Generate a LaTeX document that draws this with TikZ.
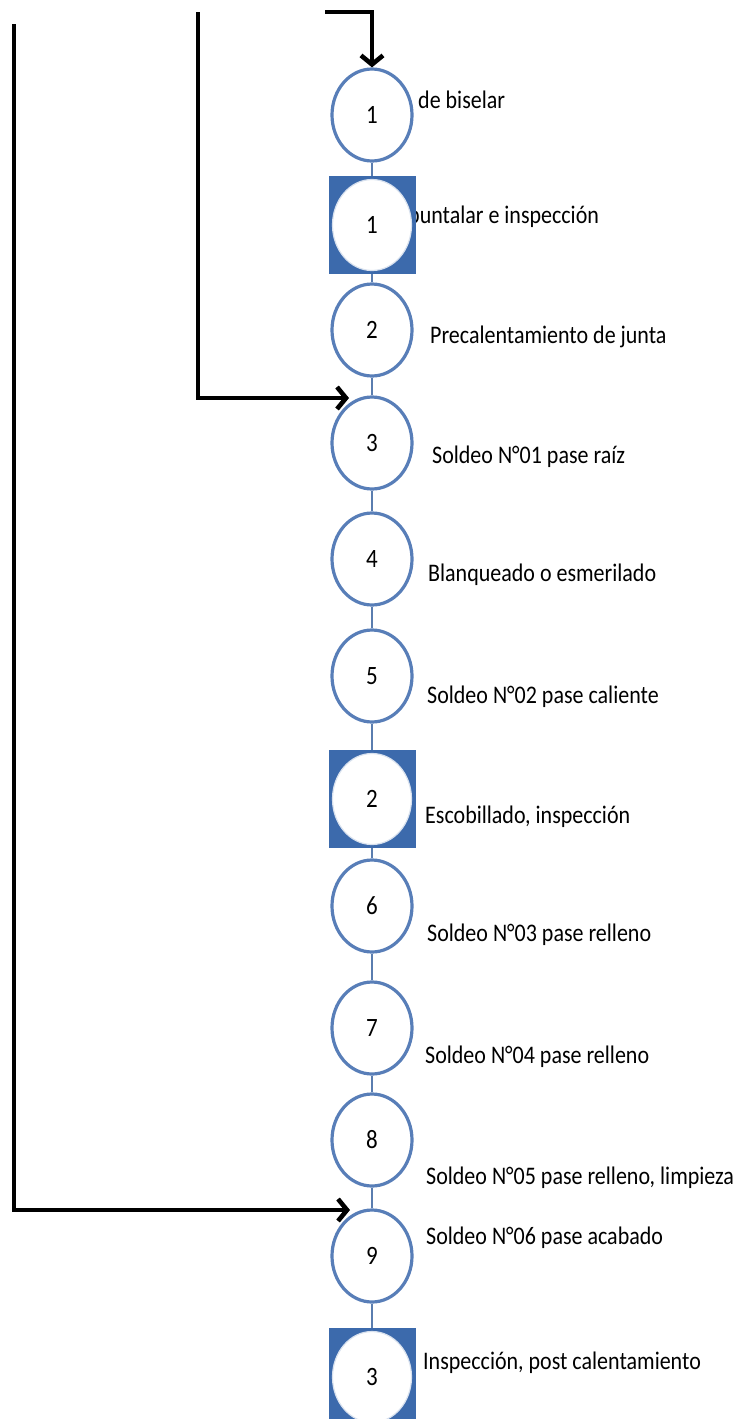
\documentclass[tikz,border=0pt]{standalone}
\usepackage{fontspec}
\setmainfont{Carlito}
\usetikzlibrary{shapes.geometric,arrows.meta}
\definecolor{ringblue}{RGB}{88,126,184}
\definecolor{boxblue}{RGB}{60,106,172}
\definecolor{linkblue}{RGB}{90,125,175}
\newcommand{\lbl}[1]{\scalebox{1}[1.15]{#1}}
\begin{document}
\begin{tikzpicture}[x=1pt,y=-1pt,
  opcircle/.style={ellipse,draw=ringblue,line width=3.2pt,fill=white,minimum width=80pt,minimum height=92pt,inner sep=0pt,font=\fontsize{23}{27}\selectfont},
  inspbox/.style={rectangle,fill=boxblue,draw=boxblue,line width=0.8pt,minimum width=86pt,minimum height=97pt,inner sep=0pt},
  inspcircle/.style={ellipse,fill=white,draw=white!80!boxblue,line width=1.2pt,minimum width=79pt,minimum height=91pt,inner sep=0pt,font=\fontsize{23}{27}\selectfont},
  steptext/.style={anchor=west,inner sep=0pt,font=\fontsize{22}{26}\selectfont},
  link/.style={draw=linkblue,line width=1.6pt},
  arr/.style={draw=black,line width=4.6pt,-{Straight Barb[length=9pt,width=22pt]}}]
\useasboundingbox (0,0) rectangle (743,1419);
% labels partly hidden behind shapes
\node[steptext] (t1) at (418,100) {\lbl{de biselar}};
\node[steptext] (t2) at (408,217) {\lbl{puntalar e inspección}};
% shapes
\node[opcircle] (c1) at (372,115) {\lbl{1}};
\node[inspbox] (s1) at (372,225) {};
\node[inspcircle] (s1c) at (372,225) {\lbl{1}};
\node[opcircle] (c2) at (372,330) {\lbl{2}};
\node[opcircle] (c3) at (372,443) {\lbl{3}};
\node[opcircle] (c4) at (372,559) {\lbl{4}};
\node[opcircle] (c5) at (372,676) {\lbl{5}};
\node[inspbox] (s2) at (372,799) {};
\node[inspcircle] (s2c) at (372,799) {\lbl{2}};
\node[opcircle] (c6) at (372,906) {\lbl{6}};
\node[opcircle] (c7) at (372,1028) {\lbl{7}};
\node[opcircle] (c8) at (372,1140) {\lbl{8}};
\node[opcircle] (c9) at (372,1256) {\lbl{9}};
\node[inspbox] (s3) at (372,1377) {};
\node[inspcircle] (s3c) at (372,1377) {\lbl{3}};
% chain links
\draw[link] (c1) -- (s1);
\draw[link] (s1) -- (c2);
\draw[link] (c2) -- (c3);
\draw[link] (c3) -- (c4);
\draw[link] (c4) -- (c5);
\draw[link] (c5) -- (s2);
\draw[link] (s2) -- (c6);
\draw[link] (c6) -- (c7);
\draw[link] (c7) -- (c8);
\draw[link] (c8) -- (c9);
\draw[link] (c9) -- (s3);
% step labels
\node[steptext] (t3) at (430,337) {\lbl{Precalentamiento de junta}};
\node[steptext] (t4) at (432,457) {\lbl{Soldeo N°01 pase raíz}};
\node[steptext] (t5) at (428,575) {\lbl{Blanqueado o esmerilado}};
\node[steptext] (t6) at (427,697) {\lbl{Soldeo N°02 pase caliente}};
\node[steptext] (t7) at (425,817) {\lbl{Escobillado, inspección}};
\node[steptext] (t8) at (427,935) {\lbl{Soldeo N°03 pase relleno}};
\node[steptext] (t9) at (425,1057) {\lbl{Soldeo N°04 pase relleno}};
\node[steptext] (t10) at (426,1178) {\lbl{Soldeo N°05 pase relleno, limpieza}};
\node[steptext] (t11) at (426,1238) {\lbl{Soldeo N°06 pase acabado}};
\node[steptext] (t12) at (423,1363) {\lbl{Inspección, post calentamiento}};
% feed arrows
\coordinate (a0) at (325,12);
\coordinate (m0) at (198,12);
\coordinate (m1) at (349,398);
\coordinate (o0) at (14,24);
\coordinate (o1) at (350,1210);
\draw[arr] (a0) -| (c1.north);
\draw[arr] (m0) |- (m1);
\draw[arr] (o0) |- (o1);
\end{tikzpicture}
\end{document}
